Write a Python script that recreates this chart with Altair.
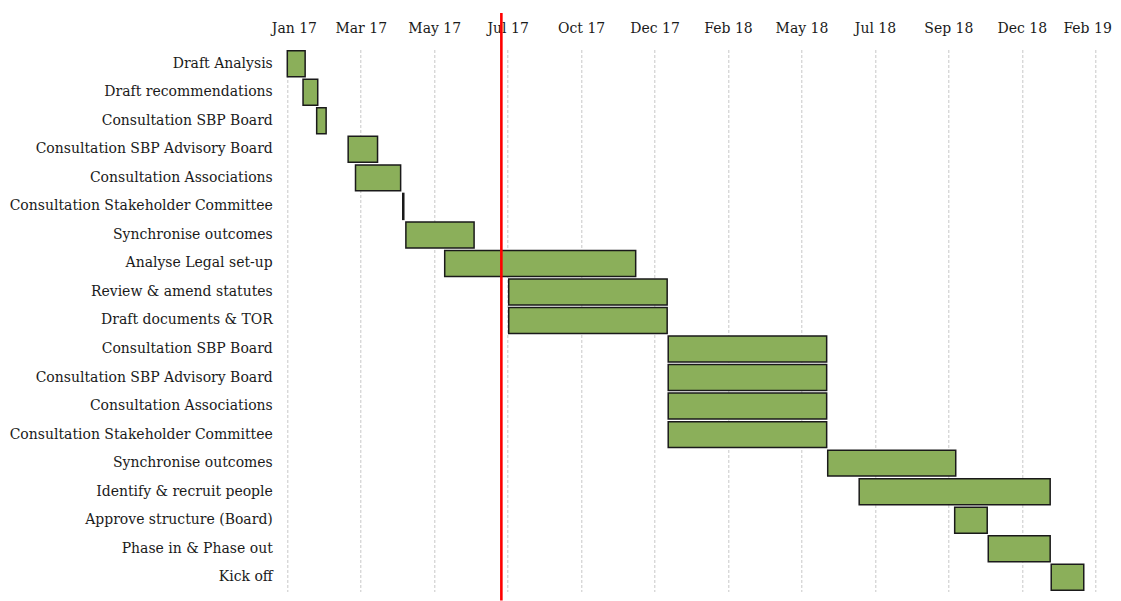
import json
import altair as alt
import pandas as pd

tasks = [
    "Draft Analysis",
    "Draft recommendations",
    "Consultation SBP Board",
    "Consultation SBP Advisory Board",
    "Consultation Associations",
    "Consultation Stakeholder Committee",
    "Synchronise outcomes",
    "Analyse Legal set-up",
    "Review & amend statutes",
    "Draft documents & TOR",
    "Consultation SBP Board",
    "Consultation SBP Advisory Board",
    "Consultation Associations",
    "Consultation Stakeholder Committee",
    "Synchronise outcomes",
    "Identify & recruit people",
    "Approve structure (Board)",
    "Phase in & Phase out",
    "Kick off ",
]
starts = [
    "2017-01-01", "2017-01-16", "2017-01-29", "2017-02-28", "2017-03-07",
    "2017-04-21", "2017-04-24", "2017-05-31", "2017-07-31", "2017-07-31",
    "2017-12-30", "2017-12-30", "2017-12-30", "2017-12-30", "2018-05-31",
    "2018-06-30", "2018-09-29", "2018-10-31", "2018-12-30",
]
ends = [
    "2017-01-18", "2017-01-30", "2017-02-07", "2017-03-28", "2017-04-19",
    "2017-04-22", "2017-06-28", "2017-11-29", "2017-12-29", "2017-12-29",
    "2018-05-30", "2018-05-30", "2018-05-30", "2018-05-30", "2018-09-30",
    "2018-12-29", "2018-10-30", "2018-12-29", "2019-01-30",
]
today = ["2017-07-24"]
tick_dates = [
    "2017-01-01", "2017-03-12", "2017-05-21", "2017-07-30", "2017-10-08",
    "2017-12-17", "2018-02-25", "2018-05-06", "2018-07-15", "2018-09-23",
    "2018-12-02", "2019-02-10",
]


def dt(s):
    y, m, d = (int(p) for p in s.split("-"))
    return alt.DateTime(year=y, month=m, date=d, utc=True)


df = pd.DataFrame({"row": list(range(len(tasks))), "task": tasks,
                   "start": starts, "end": ends})
df_today = pd.DataFrame({"date": today})

FONT = "DejaVu Serif"
W, H = 808, 542

xscale = alt.Scale(type="utc", domain=[dt(tick_dates[0]), dt(tick_dates[-1])])

bars = alt.Chart(df).mark_bar(
    color="#8BAF5A", stroke="#1a1a1a", strokeWidth=1.5
).encode(
    x=alt.X("start:T", scale=xscale, title=None,
            axis=alt.Axis(orient="top", values=[dt(t) for t in tick_dates],
                          labelExpr="utcFormat(datum.value, '%b %y')",
                          grid=True, gridDash=[3, 2], gridColor="#c8c8c8",
                          gridWidth=1, domain=False, ticks=False,
                          labelPadding=14, labelFont=FONT, labelFontSize=14,
                          labelColor="#1a1a1a", labelFlush=True,
                          labelFlushOffset=16)),
    x2="end:T",
    y=alt.Y("row:O", title=None,
            scale=alt.Scale(paddingInner=0.09, paddingOuter=0.045),
            axis=alt.Axis(labelExpr=f"{json.dumps(tasks)}[datum.value]",
                          domain=False, ticks=False, grid=False,
                          labelPadding=15, labelFont=FONT, labelFontSize=14,
                          labelColor="#1a1a1a", labelLimit=400)),
)

rule = alt.Chart(df_today).mark_rule(color="#FF0000", strokeWidth=2.6).encode(
    x=alt.X("date:T", scale=xscale),
    y=alt.value(-36.5),
    y2=alt.value(H + 9),
)

chart = alt.layer(bars, rule).properties(
    width=W, height=H,
    autosize=alt.AutoSizeParams(type="none"),
    padding={"left": 279.3, "top": 41.5, "right": 17.5, "bottom": 9},
).configure_view(stroke=None)

chart.save("out.html", embed_options={"renderer": "svg", "actions": False})
